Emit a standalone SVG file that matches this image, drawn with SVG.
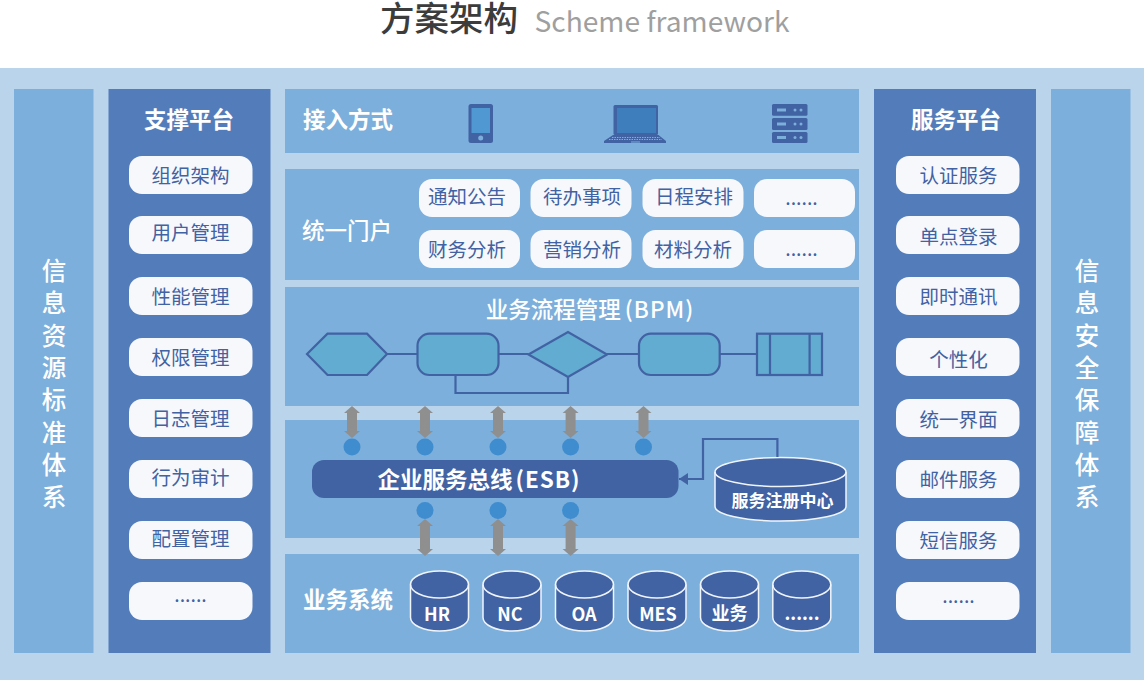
<svg xmlns="http://www.w3.org/2000/svg" width="1144" height="680" viewBox="0 0 1144 680">
<style>
text{font-family:"Noto Sans CJK SC","Noto Sans",sans-serif;text-anchor:middle}
.panel{fill:#7cafdb}
.side{fill:#537dba}
.pill{fill:#f7f8fc}
.pt{font-size:19.500px;fill:#4162a3}
.h{font-size:22.500px;font-weight:700;fill:#fff}
.v{font-size:24.500px;font-weight:500;fill:#fff}
.flow{fill:#62abd1;stroke:#4162a3;stroke-width:2.200}
.line{fill:none;stroke:#4162a3;stroke-width:2.200}
.cyl{fill:#4162a3;stroke:#f0f5fb;stroke-width:1.500}
.cl{font-size:18px;font-weight:700;fill:#fff}
.icon{fill:#4162a3}
.il{fill:#7cafdb}
.dot{fill:#3f8ccf}
.arr{fill:#8f8f8f}
</style>
<defs>
<g id="cyl"><path class="cyl" d="M-29 13.500V46.500A29 13.500 0 0 0 29 46.500V13.500A29 13.500 0 0 0 -29 13.500Z"/><path class="cyl" style="fill:none" d="M-29 13.500A29 13.500 0 0 0 29 13.500"/></g>
<path id="a" class="arr" d="M0 0L8 7H5V25H8L0 32L-8 25H-5V7H-8Z"/>
<path id="b" class="arr" d="M0 0L8 7H5V30H8L0 37L-8 30H-5V7H-8Z"/>
<marker id="ah" markerUnits="userSpaceOnUse" markerWidth="10" markerHeight="12" refX="9" refY="6" orient="auto"><path d="M9 6L0 0V12Z" fill="#4162a3"/></marker>
</defs>
<rect width="1144" height="680" fill="#fff"/>
<rect y="68" width="1144" height="612" fill="#bad4ec"/>
<g id="title">
<text x="449" y="31" font-size="34.500" font-weight="500" fill="#3c3c3c">方案架构</text>
<text x="662" y="32" font-size="28.200" fill="#9f9f9f">Scheme framework</text>
</g>
<g id="info-resource"><rect class="panel" x="14" y="89" width="79.500" height="564"/>
<text class="v"><tspan x="54" y="280">信</tspan><tspan x="54" y="312">息</tspan><tspan x="54" y="344.500">资</tspan><tspan x="54" y="377">源</tspan><tspan x="54" y="409">标</tspan><tspan x="54" y="441.500">准</tspan><tspan x="54" y="473.500">体</tspan><tspan x="54" y="506">系</tspan></text></g>
<g id="support"><rect class="side" x="108.500" y="89" width="162" height="564"/>
<text class="h" x="189" y="128">支撑平台</text>
<g><rect class="pill" x="129" y="156" width="123.500" height="38" rx="13"/><text class="pt" x="190.500" y="183">组织架构</text></g>
<g><rect class="pill" x="129" y="216" width="123.500" height="38" rx="13"/><text class="pt" x="190.500" y="240">用户管理</text></g>
<g><rect class="pill" x="129" y="277" width="123.500" height="38" rx="13"/><text class="pt" x="190.500" y="303.500">性能管理</text></g>
<g><rect class="pill" x="129" y="338" width="123.500" height="38" rx="13"/><text class="pt" x="190.500" y="364.500">权限管理</text></g>
<g><rect class="pill" x="129" y="399" width="123.500" height="38" rx="13"/><text class="pt" x="190.500" y="425.500">日志管理</text></g>
<g><rect class="pill" x="129" y="460" width="123.500" height="38" rx="13"/><text class="pt" x="190.500" y="484.500">行为审计</text></g>
<g><rect class="pill" x="129" y="521" width="123.500" height="38" rx="13"/><text class="pt" x="190.500" y="545.500">配置管理</text></g>
<g><rect class="pill" x="129" y="582" width="123.500" height="38" rx="13"/><text class="pt" x="190.500" y="602">......</text></g>
</g>
<g id="access"><rect class="panel" x="285" y="89" width="574" height="64"/>
<text class="h" x="348" y="128">接入方式</text>
<g id="phone"><rect class="icon" x="468.500" y="104" width="24.500" height="39" rx="2.500"/><rect x="471.500" y="108" width="18.500" height="25" fill="#4f98d2"/><circle class="il" cx="480.700" cy="138" r="2.500"/></g>
<g id="laptop"><rect class="icon" x="613.500" y="105" width="44.500" height="30" rx="1.500"/><rect x="617" y="108" width="39" height="25" fill="#3f7ebd"/><path class="icon" d="M613 135H658.500L666 141V143H604V141Z"/><path d="M612 137.500H660M609 139.500H662" stroke="#7cafdb" stroke-width="1" stroke-dasharray="1.500 1" fill="none"/><rect class="il" x="631" y="141.500" width="9" height="1"/></g>
<g id="server"><rect class="icon" x="772" y="104" width="35.500" height="11.700" rx="1.500"/><rect class="icon" x="772" y="118" width="35.500" height="12" rx="1.500"/><rect class="icon" x="772" y="132" width="35.500" height="11" rx="1.500"/>
<rect class="il" x="777" y="108.500" width="9" height="3"/><circle class="il" cx="795" cy="110" r="1.500"/><circle class="il" cx="801" cy="110" r="1.500"/>
<rect class="il" x="777" y="122.500" width="9" height="3"/><circle class="il" cx="795" cy="124" r="1.500"/><circle class="il" cx="801" cy="124" r="1.500"/>
<rect class="il" x="777" y="136" width="9" height="3"/><circle class="il" cx="795" cy="137.500" r="1.500"/><circle class="il" cx="801" cy="137.500" r="1.500"/></g>
</g>
<g id="portal"><rect class="panel" x="285" y="169" width="574" height="111"/>
<text class="h" x="347" y="239" style="font-weight:500">统一门户</text>
<g><rect class="pill" x="419" y="179" width="101" height="38" rx="13"/><text class="pt" x="467" y="204">通知公告</text></g>
<g><rect class="pill" x="530.500" y="179" width="101" height="38" rx="13"/><text class="pt" x="582" y="204">待办事项</text></g>
<g><rect class="pill" x="642.500" y="179" width="101" height="38" rx="13"/><text class="pt" x="694" y="204">日程安排</text></g>
<g><rect class="pill" x="754" y="179" width="101" height="38" rx="13"/><text class="pt" x="801.500" y="205">......</text></g>
<g><rect class="pill" x="419" y="230" width="101" height="38" rx="13"/><text class="pt" x="467" y="257">财务分析</text></g>
<g><rect class="pill" x="530.500" y="230" width="101" height="38" rx="13"/><text class="pt" x="582" y="257">营销分析</text></g>
<g><rect class="pill" x="642.500" y="230" width="101" height="38" rx="13"/><text class="pt" x="693" y="257">材料分析</text></g>
<g><rect class="pill" x="754" y="230" width="101" height="38" rx="13"/><text class="pt" x="801.500" y="256">......</text></g>
</g>
<g id="bpm"><rect class="panel" x="285" y="287" width="574" height="119"/>
<text class="h" x="590" y="318" style="font-weight:500">业务流程管理<tspan dx="4" letter-spacing="1">(BPM)</tspan></text>
</g>
<g id="esb-panel"><rect class="panel" x="285" y="420" width="574" height="118"/></g>
<g id="biz"><rect class="panel" x="285" y="554" width="574" height="99"/>
<text class="h" x="348" y="608">业务系统</text>
</g>
<g id="flow-start"><path class="flow" d="M307 354L327.500 333.700H367L387 354L367 375H327.500Z"/></g>
<g id="flow-task-1"><rect class="flow" x="417.500" y="333.700" width="81" height="41.300" rx="12"/></g>
<g id="flow-decision"><path class="flow" d="M528.500 354.500L568 332L607 354.500L568 377Z"/></g>
<g id="flow-task-2"><rect class="flow" x="639" y="333.700" width="80.700" height="41.300" rx="12"/></g>
<g id="flow-end"><rect class="flow" x="757" y="333.700" width="65" height="41.300"/><path class="line" d="M770 333.700V375M809.600 333.700V375"/></g>
<g id="esb"><rect x="312" y="460" width="366.500" height="38" rx="12" fill="#4162a3"/>
<text x="479" y="488" font-size="22.500" font-weight="700" fill="#fff">企业服务总线<tspan dx="3" letter-spacing="1">(ESB)</tspan></text></g>
<g id="registry"><path class="cyl" d="M715 472V506.500A65.500 14.500 0 0 0 846 506.500V472A65.500 14.500 0 0 0 715 472Z"/><path class="cyl" style="fill:none" d="M715 472A65.500 14.500 0 0 0 846 472"/>
<text x="782.500" y="507" font-size="17" font-weight="700" fill="#fff">服务注册中心</text></g>
<g id="connectors">
<path class="line" d="M387 354H417.500M498.500 354H528.500M607 354H639M719.700 354H757M455.500 375V393H568V377"/>
<path class="line" d="M777.400 457V439H703V479H679" marker-end="url(#ah)"/>
<use href="#a" x="352" y="406"/><use href="#a" x="425" y="406"/><use href="#a" x="498" y="406"/><use href="#a" x="570.600" y="406"/><use href="#a" x="643.500" y="406"/>
<use href="#b" x="425" y="519"/><use href="#b" x="498" y="519"/><use href="#b" x="570.600" y="519"/>
<circle class="dot" cx="352" cy="447" r="8.500"/><circle class="dot" cx="425" cy="447" r="8.500"/><circle class="dot" cx="498" cy="447" r="8.500"/><circle class="dot" cx="570.600" cy="447" r="8.500"/><circle class="dot" cx="643.500" cy="447" r="8.500"/>
<circle class="dot" cx="425" cy="510.500" r="8.500"/><circle class="dot" cx="498" cy="510.500" r="8.500"/><circle class="dot" cx="570.600" cy="510.500" r="8.500"/>
</g>
<g id="db-hr"><use href="#cyl" x="439.500" y="571"/><text class="cl" x="437" y="621">HR</text></g>
<g id="db-nc"><use href="#cyl" x="512" y="571"/><text class="cl" x="510" y="621">NC</text></g>
<g id="db-oa"><use href="#cyl" x="584.500" y="571"/><text class="cl" x="584" y="621">OA</text></g>
<g id="db-mes"><use href="#cyl" x="657" y="571"/><text class="cl" x="658" y="621">MES</text></g>
<g id="db-biz"><use href="#cyl" x="729.500" y="571"/><text class="cl" x="729.500" y="620">业务</text></g>
<g id="db-more"><use href="#cyl" x="801.800" y="571"/><text class="cl" x="802" y="620">......</text></g>
<g id="service"><rect class="side" x="874" y="89" width="162" height="564"/>
<text class="h" x="956" y="128">服务平台</text>
<g><rect class="pill" x="896" y="156" width="123.500" height="38" rx="13"/><text class="pt" x="958.500" y="183">认证服务</text></g>
<g><rect class="pill" x="896" y="216" width="123.500" height="38" rx="13"/><text class="pt" x="958.500" y="244">单点登录</text></g>
<g><rect class="pill" x="896" y="277" width="123.500" height="38" rx="13"/><text class="pt" x="958.500" y="303.500">即时通讯</text></g>
<g><rect class="pill" x="896" y="338" width="123.500" height="38" rx="13"/><text class="pt" x="958.500" y="366.500">个性化</text></g>
<g><rect class="pill" x="896" y="399" width="123.500" height="38" rx="13"/><text class="pt" x="958.500" y="426.500">统一界面</text></g>
<g><rect class="pill" x="896" y="460" width="123.500" height="38" rx="13"/><text class="pt" x="958.500" y="486.500">邮件服务</text></g>
<g><rect class="pill" x="896" y="521" width="123.500" height="38" rx="13"/><text class="pt" x="958.500" y="547.500">短信服务</text></g>
<g><rect class="pill" x="896" y="582" width="123.500" height="38" rx="13"/><text class="pt" x="958.500" y="603">......</text></g>
</g>
<g id="info-security"><rect class="panel" x="1051" y="89" width="79.500" height="564"/>
<text class="v"><tspan x="1087" y="280">信</tspan><tspan x="1087" y="312">息</tspan><tspan x="1087" y="344.500">安</tspan><tspan x="1087" y="377">全</tspan><tspan x="1087" y="409">保</tspan><tspan x="1087" y="441.500">障</tspan><tspan x="1087" y="473.500">体</tspan><tspan x="1087" y="506">系</tspan></text></g>
</svg>
